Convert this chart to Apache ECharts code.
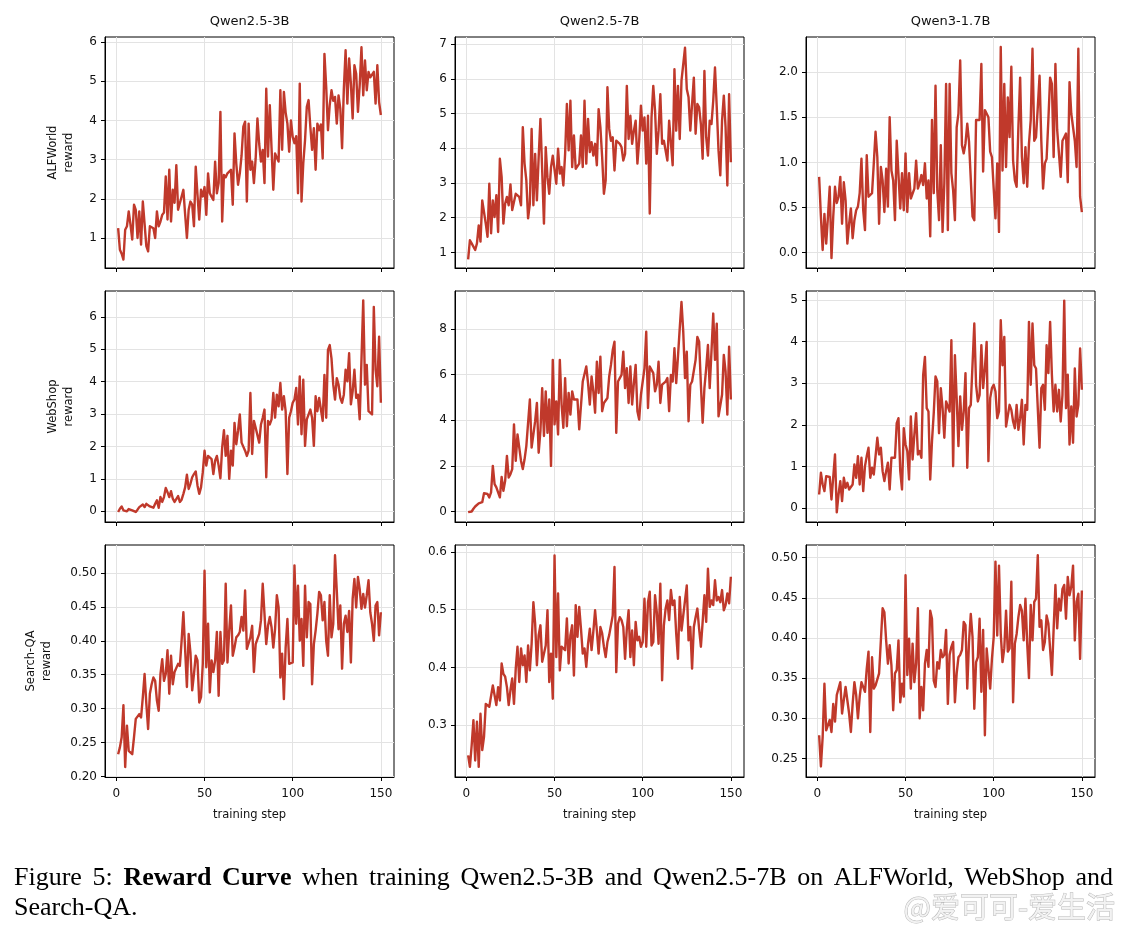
<!DOCTYPE html>
<html>
<head>
<meta charset="utf-8">
<script src="https://cdn.jsdelivr.net/npm/echarts@6/dist/echarts.min.js"></script>
<style>
html,body{margin:0;padding:0;background:#fff;}
#chart{width:1129px;height:932px;}
</style>
</head>
<body>
<div id="chart"></div>
<script>
// ---- Data ----
const modelNames = ['Qwen2.5-3B', 'Qwen2.5-7B', 'Qwen3-1.7B'];
const envNames = ['ALFWorld\nreward', 'WebShop\nreward', 'Search-QA\nreward'];
const xTicks = [0, 50, 100, 150];

const alfworld3b = [1.25,0.70,0.60,0.45,1.21,1.30,1.68,1.34,0.96,1.85,
1.72,1.00,1.68,0.83,1.93,1.93,0.79,0.66,1.30,1.28,
1.25,1.00,1.68,1.30,1.42,1.59,1.65,2.57,1.47,2.74,
1.42,2.23,1.90,2.86,1.72,1.72,2.06,2.23,1.60,1.00,
1.72,1.93,1.85,1.30,2.82,2.10,1.47,2.23,2.06,2.30,
1.59,2.65,2.14,2.05,1.97,2.95,2.14,2.40,4.22,1.42,
2.61,2.55,2.65,2.60,2.74,1.85,3.67,2.90,2.36,2.65,
3.10,3.84,3.97,1.93,3.92,2.74,2.95,2.40,3.03,4.05,
3.40,2.95,3.25,2.40,4.81,3.08,4.39,3.30,2.23,3.16,
3.05,2.95,4.77,3.25,4.73,4.20,3.92,3.20,4.00,3.58,
3.42,3.60,2.14,4.94,1.93,2.91,3.50,4.35,4.52,3.84,
3.25,3.80,2.74,3.92,3.75,3.90,3.03,5.70,4.86,3.75,
4.40,4.77,4.50,4.60,3.92,4.64,4.30,3.29,4.80,5.79,
4.43,5.58,4.94,4.05,5.41,5.19,4.22,4.90,5.87,4.64,
5.53,4.77,5.24,5.10,5.07,5.24,4.43,5.41,4.47,4.14];

const alfworld7b = [0.80,1.35,1.26,1.26,1.07,1.26,1.78,1.31,2.50,2.55,
1.83,1.45,2.98,1.55,2.50,2.02,2.65,1.59,3.70,3.17,
1.83,2.41,2.60,2.36,2.96,2.22,2.17,2.69,2.65,2.60,
2.36,4.61,3.56,3.08,1.98,2.41,4.56,2.36,3.84,2.50,
3.75,4.85,3.36,1.83,4.03,3.17,2.69,3.46,3.79,3.84,
2.98,3.99,3.27,3.46,2.93,3.84,5.28,3.94,5.37,3.46,
4.37,3.41,3.41,3.56,4.37,3.46,5.37,3.56,4.85,3.89,
4.18,3.79,4.13,3.51,5.13,4.61,3.75,2.69,3.08,5.76,
4.56,4.22,4.32,3.36,4.22,4.22,4.13,4.03,3.65,3.84,
5.80,4.27,4.94,4.13,4.51,4.80,3.56,4.22,5.23,4.51,
4.89,3.56,4.94,2.12,4.89,5.80,5.09,3.84,4.51,5.56,
4.13,4.22,4.18,3.65,4.80,4.80,3.51,6.28,4.51,5.80,
4.27,5.95,6.00,6.90,5.71,5.47,4.51,4.51,6.04,4.42,
5.28,5.18,4.70,3.70,6.23,4.32,3.79,4.80,4.70,5.37,
6.33,5.18,3.94,3.22,4.80,5.52,4.61,2.93,5.56,3.60];

const alfworldQ3 = [0.84,0.40,0.03,0.43,0.10,0.40,0.73,-0.06,0.40,0.73,
0.55,0.62,0.84,0.32,0.78,0.58,0.10,0.32,0.49,0.16,
0.36,0.47,0.51,0.66,1.04,0.47,0.25,1.08,0.62,0.64,
0.66,0.99,1.34,1.06,0.32,0.95,0.80,0.45,0.93,0.51,
1.50,0.91,0.80,0.36,1.24,1.26,0.49,0.88,0.47,1.10,
0.45,0.88,0.60,0.62,0.71,1.02,0.71,0.77,0.86,0.75,
0.99,0.60,0.80,0.18,1.47,0.66,1.85,0.69,0.36,1.19,
0.23,0.77,1.87,0.25,1.87,0.88,0.69,0.36,1.39,1.54,
2.13,1.19,1.10,1.21,1.43,1.23,1.21,0.40,0.36,1.47,
1.47,1.47,2.09,0.90,1.58,1.58,1.50,1.12,1.06,0.71,
0.38,0.99,0.23,2.28,0.91,1.87,0.95,1.72,1.28,2.06,
1.02,0.80,0.73,1.39,1.94,1.06,0.77,1.17,0.73,1.21,
1.47,2.26,1.24,1.28,1.61,1.96,1.24,0.71,0.99,1.04,
1.47,1.94,1.87,1.06,2.09,1.36,1.10,0.84,1.24,1.28,
1.32,0.78,1.89,1.54,1.52,1.24,0.95,2.26,0.62,0.45];

const webshop3b = [-0.02,0.08,0.15,0.03,-0.02,0.00,0.07,0.05,0.03,0.00,
-0.02,0.05,0.13,0.08,0.21,0.13,0.23,0.29,0.15,0.18,
0.11,0.23,0.34,0.11,0.44,0.29,0.44,0.72,0.59,0.44,
0.62,0.39,0.29,0.23,0.47,0.29,0.36,0.54,0.74,1.13,
0.69,0.85,1.05,1.15,1.23,0.80,0.54,0.74,1.20,1.87,
1.41,1.71,1.66,1.61,1.15,1.56,1.71,1.41,1.02,1.97,
2.50,1.71,2.33,1.00,1.87,1.41,2.73,2.07,2.48,2.99,
2.12,2.07,1.87,1.71,1.87,3.65,1.77,2.79,2.58,2.58,
2.12,2.68,2.89,3.14,1.05,2.79,2.68,2.84,3.65,2.89,
3.60,3.24,3.96,3.14,3.55,3.09,1.15,2.89,3.09,3.35,
3.45,3.81,2.68,4.16,2.38,4.06,2.02,2.84,2.89,3.14,
2.89,2.02,3.55,3.09,3.50,3.45,2.79,4.21,2.89,4.98,
5.13,4.72,3.91,3.45,4.11,3.91,3.50,3.35,3.60,4.37,
4.01,4.88,3.30,3.70,4.37,3.50,3.60,2.84,2.79,6.51,
3.91,4.52,3.09,3.04,2.99,6.31,4.37,3.86,5.39,3.35];

const webshop7b = [-0.03,0.04,0.00,0.12,0.22,0.16,0.36,0.33,0.41,0.80,
0.74,0.77,0.62,0.84,2.00,1.20,1.06,1.03,0.62,1.52,
0.91,1.35,2.44,1.49,1.64,1.86,3.82,2.22,3.38,3.31,
2.22,1.86,2.29,2.87,2.95,4.91,2.80,3.38,3.96,4.76,
2.58,3.53,5.41,3.31,5.27,3.45,4.91,2.00,6.65,3.82,
4.83,3.38,6.65,4.69,3.67,5.85,3.74,5.20,4.25,5.27,
4.91,4.83,4.91,3.60,3.67,5.70,5.70,6.36,5.63,4.69,
5.92,5.27,4.33,6.57,5.20,6.79,4.40,4.76,4.76,4.98,
5.92,6.43,7.08,7.45,3.45,5.70,5.85,5.99,7.01,5.41,
6.28,4.76,6.36,4.69,5.63,6.43,4.40,4.03,5.12,5.12,
6.28,7.88,4.54,6.36,6.36,6.07,5.27,5.56,6.57,4.76,
5.56,5.56,5.70,5.85,4.40,5.99,5.70,7.16,5.63,6.79,
8.03,9.19,7.88,5.85,7.01,3.96,5.56,5.70,5.78,6.65,
7.66,7.45,5.56,3.89,5.41,6.28,7.30,5.41,7.01,8.68,
6.65,8.24,4.18,4.18,5.12,6.87,6.14,4.25,7.23,4.91];

const webshopQ3 = [0.33,0.85,0.57,0.41,0.77,0.73,0.75,0.21,0.25,1.29,
-0.10,0.33,0.65,0.17,0.73,0.49,0.61,0.45,0.41,0.57,
1.05,0.73,1.25,0.57,1.21,0.41,1.01,1.25,1.45,0.73,
0.97,0.81,0.77,1.69,1.29,1.45,0.89,0.65,0.89,1.09,
0.45,1.21,1.17,1.21,2.04,2.16,0.89,0.45,1.92,1.53,
1.37,0.69,2.20,1.17,1.76,2.28,1.29,1.37,1.21,3.20,
3.63,2.40,2.32,0.69,1.61,2.28,3.16,3.04,1.80,2.88,
2.40,1.69,2.56,2.60,2.32,4.03,1.01,3.67,2.64,1.49,
2.68,1.88,2.32,3.24,0.97,2.40,2.48,2.48,4.43,2.96,
2.56,2.72,3.91,2.88,3.35,3.99,1.13,2.64,2.88,2.96,
2.80,2.16,2.32,4.51,3.43,4.11,1.96,2.00,2.48,2.36,
2.08,1.92,2.48,1.88,2.16,2.60,1.53,2.48,2.36,4.47,
2.96,4.43,3.43,3.35,3.31,1.45,2.88,2.96,2.36,3.91,
3.24,4.47,3.20,2.32,2.96,2.32,2.84,2.08,2.72,4.98,
2.40,3.20,1.53,2.44,1.57,3.35,2.20,2.48,3.83,2.84];

const searchqa3b = [0.233,0.243,0.258,0.305,0.214,0.275,0.238,0.238,0.233,0.258,
0.285,0.287,0.292,0.287,0.317,0.351,0.307,0.270,0.322,0.336,
0.346,0.341,0.312,0.297,0.351,0.373,0.341,0.351,0.386,0.322,
0.378,0.336,0.354,0.356,0.366,0.363,0.400,0.442,0.444,0.332,
0.410,0.383,0.327,0.351,0.378,0.371,0.309,0.317,0.366,0.503,
0.361,0.425,0.324,0.371,0.354,0.371,0.413,0.319,0.413,0.366,
0.371,0.484,0.368,0.415,0.452,0.378,0.390,0.405,0.408,0.413,
0.435,0.415,0.474,0.388,0.390,0.405,0.422,0.354,0.395,0.395,
0.410,0.430,0.484,0.484,0.395,0.422,0.435,0.420,0.390,0.417,
0.467,0.449,0.346,0.381,0.314,0.390,0.432,0.366,0.366,0.368,
0.511,0.425,0.481,0.400,0.432,0.363,0.481,0.405,0.457,0.454,
0.336,0.395,0.415,0.440,0.472,0.467,0.430,0.457,0.400,0.378,
0.467,0.405,0.425,0.526,0.474,0.417,0.452,0.359,0.425,0.437,
0.413,0.444,0.368,0.462,0.491,0.449,0.494,0.476,0.447,0.469,
0.449,0.467,0.489,0.442,0.425,0.400,0.452,0.457,0.408,0.442];

const searchqa7b = [0.248,0.228,0.265,0.309,0.239,0.306,0.228,0.320,0.257,0.280,
0.337,0.335,0.332,0.329,0.369,0.372,0.335,0.366,0.343,0.407,
0.389,0.384,0.366,0.335,0.361,0.381,0.337,0.398,0.436,0.375,
0.433,0.404,0.421,0.375,0.438,0.395,0.441,0.513,0.476,0.404,
0.456,0.473,0.410,0.410,0.438,0.499,0.375,0.424,0.346,0.594,
0.418,0.528,0.395,0.436,0.436,0.430,0.485,0.407,0.456,0.473,
0.386,0.508,0.453,0.505,0.467,0.424,0.433,0.401,0.441,0.467,
0.430,0.462,0.499,0.464,0.424,0.470,0.459,0.436,0.418,0.444,
0.456,0.456,0.490,0.574,0.392,0.476,0.487,0.482,0.470,0.415,
0.467,0.499,0.418,0.464,0.404,0.479,0.447,0.453,0.436,0.444,
0.519,0.436,0.513,0.531,0.438,0.444,0.525,0.496,0.441,0.545,
0.378,0.473,0.502,0.516,0.482,0.534,0.508,0.516,0.459,0.415,
0.522,0.464,0.490,0.516,0.542,0.447,0.470,0.398,0.470,0.487,
0.502,0.467,0.436,0.479,0.525,0.479,0.571,0.505,0.516,0.508,
0.551,0.516,0.522,0.513,0.534,0.499,0.508,0.528,0.511,0.557];

const searchqaQ3 = [0.279,0.240,0.277,0.343,0.285,0.283,0.298,0.283,0.318,0.296,
0.329,0.327,0.345,0.306,0.323,0.339,0.337,0.306,0.283,0.318,
0.345,0.329,0.300,0.327,0.345,0.347,0.333,0.362,0.383,0.283,
0.376,0.337,0.341,0.343,0.356,0.356,0.437,0.432,0.397,0.368,
0.391,0.366,0.310,0.356,0.360,0.397,0.320,0.343,0.327,0.478,
0.354,0.399,0.337,0.393,0.345,0.368,0.437,0.300,0.339,0.310,
0.368,0.385,0.364,0.434,0.424,0.347,0.339,0.370,0.362,0.385,
0.376,0.379,0.410,0.318,0.379,0.389,0.395,0.320,0.356,0.376,
0.379,0.385,0.420,0.416,0.337,0.395,0.430,0.401,0.312,0.370,
0.376,0.424,0.333,0.410,0.279,0.387,0.385,0.337,0.374,0.401,
0.495,0.403,0.490,0.405,0.370,0.387,0.434,0.383,0.387,0.470,
0.320,0.393,0.405,0.426,0.441,0.434,0.397,0.449,0.393,0.350,
0.441,0.397,0.445,0.449,0.503,0.414,0.422,0.385,0.395,0.428,
0.418,0.416,0.354,0.412,0.466,0.412,0.449,0.434,0.461,0.466,
0.424,0.476,0.453,0.464,0.490,0.397,0.445,0.455,0.374,0.459];

// y tick labels per panel
const yTicksAlf3b = [1, 2, 3, 4, 5, 6];
const yTicksAlf7b = [1, 2, 3, 4, 5, 6, 7];
const yTicksAlfQ3 = [0.0, 0.5, 1.0, 1.5, 2.0];
const yTicksWeb3b = [0, 1, 2, 3, 4, 5, 6];
const yTicksWeb7b = [0, 2, 4, 6, 8];
const yTicksWebQ3 = [0, 1, 2, 3, 4, 5];
const yTicksSqa3b = [0.20, 0.25, 0.30, 0.35, 0.40, 0.45, 0.50];
const yTicksSqa7b = [0.3, 0.4, 0.5, 0.6];
const yTicksSqaQ3 = [0.25, 0.30, 0.35, 0.40, 0.45, 0.50];

// caption words: [text, bold]
const captionLine1 = [['Figure', 0], ['5:', 0], ['Reward', 1], ['Curve', 1], ['when', 0], ['training', 0],
  ['Qwen2.5-3B', 0], ['and', 0], ['Qwen2.5-7B', 0], ['on', 0], ['ALFWorld,', 0], ['WebShop', 0], ['and', 0]];
const captionLine2 = 'Search-QA.';
const watermark = '@爱可可-爱生活';

// ---- Layout / style ----
const FONT = '"DejaVu Sans", sans-serif';
const SERIF = '"Liberation Serif", "Times New Roman", serif';
const RED = '#c0392b';
const colLeft = [105, 455, 806];
const rowTop = [37, 291, 545];
const PW = 289, PH = 231;

const panels = [
  {data: alfworld3b, ticks: yTicksAlf3b, min: 0.234, max: 6.13, dec: 0},
  {data: alfworld7b, ticks: yTicksAlf7b, min: 0.55, max: 7.21, dec: 0},
  {data: alfworldQ3, ticks: yTicksAlfQ3, min: -0.17, max: 2.39, dec: 1},
  {data: webshop3b, ticks: yTicksWeb3b, min: -0.33, max: 6.8, dec: 0},
  {data: webshop7b, ticks: yTicksWeb7b, min: -0.46, max: 9.67, dec: 0},
  {data: webshopQ3, ticks: yTicksWebQ3, min: -0.33, max: 5.21, dec: 0},
  {data: searchqa3b, ticks: yTicksSqa3b, min: 0.1994, max: 0.541, dec: 2},
  {data: searchqa7b, ticks: yTicksSqa7b, min: 0.2105, max: 0.612, dec: 1},
  {data: searchqaQ3, ticks: yTicksSqaQ3, min: 0.227, max: 0.5157, dec: 2}
];

const grids = [], xAxes = [], yAxes = [], series = [];
panels.forEach((p, i) => {
  const r = Math.floor(i / 3), c = i % 3;
  grids.push({left: colLeft[c], top: rowTop[r], width: PW, height: PH + (r === 2 ? 1 : 0),
    show: true, borderColor: '#000', borderWidth: 1, backgroundColor: 'transparent', containLabel: false});
  xAxes.push({
    type: 'value', gridIndex: i, min: -6.45, max: 157.45,
    axisLine: {show: true, onZero: false, lineStyle: {color: '#000', width: 1}},
    axisTick: {show: true, inside: false, length: 4, customValues: xTicks, lineStyle: {color: '#000', width: 1}},
    axisLabel: {show: r === 2, customValues: xTicks, margin: 11, fontSize: 12, color: '#111', fontFamily: FONT},
    splitLine: {show: true, customValues: xTicks, lineStyle: {color: '#e3e3e3', width: 1}},
    name: r === 2 ? 'training step' : '', nameLocation: 'middle', nameGap: 32,
    nameTextStyle: {fontSize: 11.5, color: '#111', fontFamily: FONT}
  });
  yAxes.push({
    type: 'value', gridIndex: i, min: p.min, max: p.max,
    axisLine: {show: true, onZero: false, lineStyle: {color: '#000', width: 1}},
    axisTick: {show: true, inside: false, length: 4, customValues: p.ticks, lineStyle: {color: '#000', width: 1}},
    axisLabel: {show: true, customValues: p.ticks, margin: 8, fontSize: 12, color: '#111', fontFamily: FONT,
      formatter: (v) => Number(v).toFixed(p.dec)},
    splitLine: {show: true, customValues: p.ticks, lineStyle: {color: '#e3e3e3', width: 1}},
    name: c === 0 ? envNames[r] : '', nameLocation: 'middle', nameRotate: 90,
    nameGap: r === 2 ? 50 : 28,
    nameTextStyle: {fontSize: 11.5, color: '#111', fontFamily: FONT, lineHeight: 16}
  });
  series.push({
    type: 'line', xAxisIndex: i, yAxisIndex: i, showSymbol: false, symbol: 'none',
    data: p.data.map((v, k) => [k + 1, v]),
    lineStyle: {color: RED, width: 2.4, join: 'round'}, itemStyle: {color: RED},
    animation: false, silent: true, clip: true
  });
});

const graphics = [];
modelNames.forEach((m, c) => {
  graphics.push({type: 'text', x: colLeft[c] + PW / 2, y: 22,
    style: {text: m, fill: '#111', font: '13px ' + FONT, align: 'center', verticalAlign: 'middle'}});
});

// justified first caption line (LaTeX justifies the paragraph)
const capSize = 26;
const fontN = capSize + 'px ' + SERIF, fontB = 'bold ' + capSize + 'px ' + SERIF;
const mctx = document.createElement('canvas').getContext('2d');
const widths = captionLine1.map(([w, b]) => { mctx.font = b ? fontB : fontN; return mctx.measureText(w).width; });
const lineStart = 14, lineEnd = 1113;
const totalW = widths.reduce((a, b) => a + b, 0);
const gap = (lineEnd - lineStart - totalW) / (captionLine1.length - 1);
let cx = lineStart;
captionLine1.forEach(([w, b], k) => {
  graphics.push({type: 'text', x: cx, y: 878,
    style: {text: w, fill: '#000', font: b ? fontB : fontN, align: 'left', verticalAlign: 'middle'}});
  cx += widths[k] + gap;
});
graphics.push({type: 'text', x: lineStart, y: 908,
  style: {text: captionLine2, fill: '#000', font: fontN, align: 'left', verticalAlign: 'middle'}});
graphics.push({type: 'text', x: 1115, y: 907,
  style: {text: watermark, fill: '#f2f2f2', stroke: '#b8b8b8', lineWidth: 1,
    font: '29px "Noto Sans CJK SC", sans-serif', align: 'right', verticalAlign: 'middle'}});

const chart = echarts.init(document.getElementById('chart'), null, {renderer: 'canvas'});
chart.setOption({
  animation: false,
  backgroundColor: '#fff',
  grid: grids, xAxis: xAxes, yAxis: yAxes, series: series,
  graphic: graphics
});
</script>
</body>
</html>
